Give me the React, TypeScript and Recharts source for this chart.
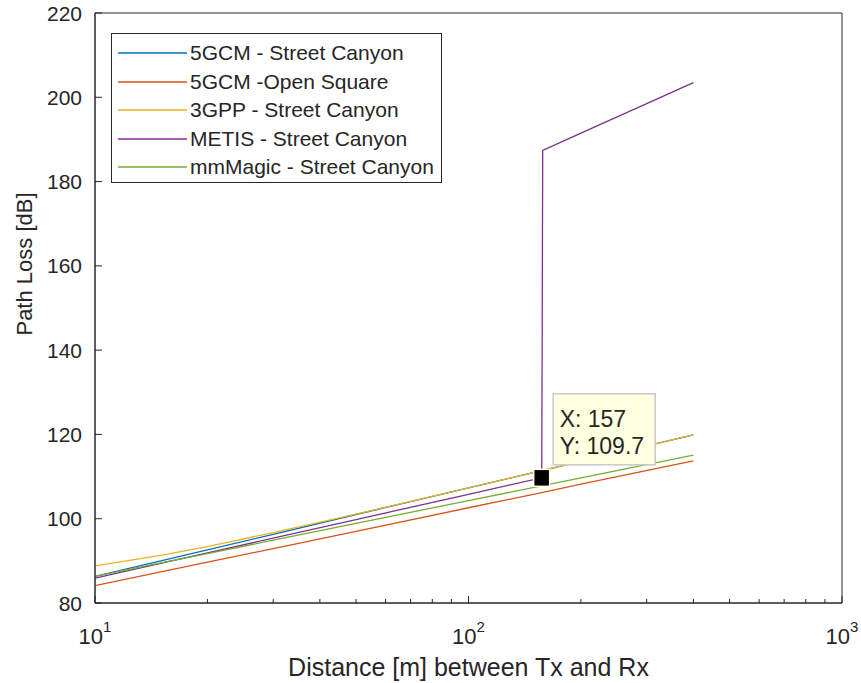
import React from "react";
import { LineChart, Line, XAxis, YAxis, Legend, ReferenceDot, ReferenceArea } from "recharts";

const FONT = '"Liberation Sans", Arial, Helvetica, sans-serif';
const AXIS = "#262626";

// distance between Tx and Rx [m]
const dist = [10, 15, 20, 30, 50, 100, 157, 200, 400];

// path loss [dB] per model
const gcmStreetCanyon = [86.3, 90.0, 92.6, 96.3, 101.0, 107.3, 111.4, 113.6, 119.9];
const gcmOpenSquare = [84.1, 87.4, 89.7, 92.9, 97.0, 102.6, 106.2, 108.2, 113.7];
const gppStreetCanyon = [88.8, 91.3, 93.4, 96.7, 101.1, 107.3, 111.4, 113.6, 119.9];
const mmMagicStreetCanyon = [86.3, 89.5, 91.7, 94.9, 98.9, 104.3, 107.8, 109.7, 115.1];

// METIS jumps at the breakpoint distance
const metisDist = [10, 20, 50, 100, 157, 157.5, 158, 200, 300, 400];
const metisStreetCanyon = [85.9, 91.9, 99.8, 105.8, 109.7, 142.2, 187.4, 191.5, 198.5, 203.5];

const xMinorTicks = [10, 20, 30, 40, 50, 60, 70, 80, 90, 100, 200, 300, 400, 500, 600, 700, 800, 900, 1000];
const xMajorTicks = [10, 100, 1000];
const xMajorExp = ["1", "2", "3"];
const yTicks = [80, 100, 120, 140, 160, 180, 200, 220];

const toPoints = (xs: number[], ys: number[]) => xs.map((d, i) => ({ d, pl: ys[i] }));

const series = [
  { name: "5GCM - Street Canyon", color: "#0072BD", data: toPoints(dist, gcmStreetCanyon) },
  { name: "5GCM -Open Square", color: "#D95319", data: toPoints(dist, gcmOpenSquare) },
  { name: "3GPP - Street Canyon", color: "#EDB120", data: toPoints(dist, gppStreetCanyon) },
  { name: "METIS - Street Canyon", color: "#7E2F8E", data: toPoints(metisDist, metisStreetCanyon) },
  { name: "mmMagic - Street Canyon", color: "#77AC30", data: toPoints(dist, mmMagicStreetCanyon) },
];

// data cursor sits on the last METIS point before the jump
const tipIndex = 4;
const tipX = metisDist[tipIndex];
const tipY = metisStreetCanyon[tipIndex];

const XTick = ({ x, y, payload, top }: any) => {
  const i = xMajorTicks.indexOf(payload.value);
  const len = i >= 0 ? 7 : 4;
  return (
    <g>
      <line x1={x} x2={x} y1={y} y2={top ? y + len : y - len} stroke={AXIS} strokeWidth={1} />
      {!top && i >= 0 && (
        <text x={x} y={y + 41} textAnchor="middle" fill={AXIS} fontFamily={FONT}>
          <tspan fontSize={22}>10</tspan>
          <tspan fontSize={15} dy={-12}>{xMajorExp[i]}</tspan>
        </text>
      )}
    </g>
  );
};

const YTick = ({ x, y, payload, right }: any) => (
  <g>
    <line x1={x} x2={right ? x - 7 : x + 7} y1={y} y2={y} stroke={AXIS} strokeWidth={1} />
    {!right && (
      <text x={x - 13} y={y + 7.5} textAnchor="end" fontSize={21} fill={AXIS} fontFamily={FONT}>
        {payload.value}
      </text>
    )}
  </g>
);

const XLabel = ({ viewBox }: any) => (
  <text
    x={viewBox.x + viewBox.width / 2}
    y={viewBox.y + 73}
    textAnchor="middle"
    fontSize={25}
    fill={AXIS}
    fontFamily={FONT}
  >
    Distance [m] between Tx and Rx
  </text>
);

const YLabel = ({ viewBox }: any) => {
  const cx = viewBox.x + 32;
  const cy = viewBox.y + 251;
  return (
    <text
      x={cx}
      y={cy}
      transform={`rotate(-90 ${cx} ${cy})`}
      textAnchor="middle"
      fontSize={22}
      fill={AXIS}
      fontFamily={FONT}
    >
      Path Loss [dB]
    </text>
  );
};

const LegendBox = () => (
  <div
    style={{
      border: `1px solid ${AXIS}`,
      background: "#fff",
      boxSizing: "border-box",
      width: 331,
      height: 150,
      paddingTop: 5,
      fontFamily: FONT,
      fontSize: 21,
      color: AXIS,
    }}
  >
    {series.map((s) => (
      <div key={s.name} style={{ display: "flex", alignItems: "center", height: 28.5 }}>
        <svg width={69} height={4} style={{ marginLeft: 6, marginRight: 3, flexShrink: 0 }}>
          <line x1={0} x2={69} y1={2} y2={2} stroke={s.color} strokeWidth={1.3} />
        </svg>
        <span style={{ whiteSpace: "nowrap" }}>{s.name}</span>
      </div>
    ))}
  </div>
);

const DataTip = ({ cx, cy }: any) => (
  <g>
    <rect x={cx + 11.5} y={cy - 84} width={102} height={71} fill="#FFFFE1" stroke="#C8C8C8" strokeWidth={1.5} />
    <text x={cx + 18} y={cy - 51} fontSize={23} fill={AXIS} fontFamily={FONT}>
      X: {tipX}
    </text>
    <text x={cx + 18} y={cy - 24} fontSize={23} fill={AXIS} fontFamily={FONT}>
      Y: {tipY}
    </text>
    <rect x={cx - 8} y={cy - 8.5} width={16} height={17} fill="#000" stroke="#FFFFE1" strokeWidth={1.5} />
  </g>
);

export default function App() {
  return (
    <div style={{ position: "absolute", left: 0, top: 0, background: "#fff" }}>
      <LineChart width={861} height={683} margin={{ top: 13, right: 19, left: 0, bottom: 0 }}>
        <XAxis
          type="number"
          dataKey="d"
          scale="log"
          domain={[10, 1000]}
          allowDataOverflow
          ticks={xMinorTicks}
          interval={0}
          tickSize={0}
          tickMargin={0}
          tickLine={false}
          tick={<XTick />}
          height={80}
          stroke={AXIS}
          label={<XLabel />}
        />
        <XAxis
          xAxisId="top"
          orientation="top"
          type="number"
          dataKey="d"
          scale="log"
          domain={[10, 1000]}
          allowDataOverflow
          ticks={xMinorTicks}
          interval={0}
          tickSize={0}
          tickMargin={0}
          tickLine={false}
          tick={<XTick top />}
          height={0}
          stroke={AXIS}
        />
        <YAxis
          type="number"
          domain={[80, 220]}
          ticks={yTicks}
          interval={0}
          tickSize={0}
          tickMargin={0}
          tickLine={false}
          tick={<YTick />}
          width={95}
          stroke={AXIS}
          label={<YLabel />}
        />
        <YAxis
          yAxisId="right"
          orientation="right"
          type="number"
          domain={[80, 220]}
          ticks={yTicks}
          interval={0}
          tickSize={0}
          tickMargin={0}
          tickLine={false}
          tick={<YTick right />}
          width={0}
          stroke={AXIS}
        />
        {/* axes box */}
        <ReferenceArea x1={10} x2={1000} y1={80} y2={220} fill="none" stroke={AXIS} strokeWidth={1} ifOverflow="visible" />
        <Legend
          content={<LegendBox />}
          layout="vertical"
          align="center"
          verticalAlign="middle"
          wrapperStyle={{ left: 111, top: 33, right: "auto", bottom: "auto", width: 331, height: 150 }}
        />
        {series.map((s) => (
          <Line
            key={s.name}
            data={s.data}
            dataKey="pl"
            name={s.name}
            type="linear"
            stroke={s.color}
            strokeWidth={1.3}
            dot={false}
            activeDot={false}
            isAnimationActive={false}
          />
        ))}
        <ReferenceDot x={tipX} y={tipY} shape={<DataTip />} />
      </LineChart>
    </div>
  );
}
